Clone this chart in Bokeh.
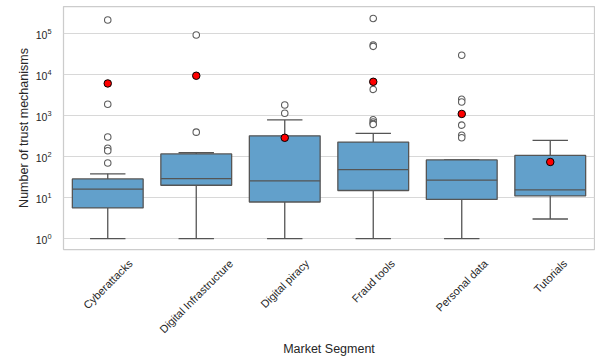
import math

from bokeh.plotting import figure
from bokeh.models import (ColumnDataSource, Range1d, FixedTicker,
                          CustomJSTickFormatter)
from bokeh.transform import dodge
from bokeh.embed import file_html
from bokeh.resources import INLINE

# Box-plot summary of trust mechanisms per market segment
segments = ["Cyberattacks", "Digital Infrastructure", "Digital piracy",
            "Fraud tools", "Personal data", "Tutorials"]
whisker_low = [1, 1, 1, 1, 1, 3.0]
q1 = [5.6, 20, 7.8, 14.9, 9.0, 11]
median = [16, 29, 25.5, 48, 26.6, 15.5]
q3 = [28.6, 116, 322, 226, 83, 107]
whisker_high = [38, 124, 787, 367, 83, 248]
means = [6100, 9400, 288, 6700, 1100, 74]
outliers = {
    "Cyberattacks": [215000, 1900, 300, 160, 139, 70],
    "Digital Infrastructure": [93000, 395],
    "Digital piracy": [1820, 1140],
    "Fraud tools": [235000, 53000, 49000, 4370, 790, 700, 640, 610],
    "Personal data": [29700, 2500, 2150, 585, 333, 288],
    "Tutorials": [],
}
y_ticks = [1, 10, 100, 1000, 10000, 100000]

TEXT = "#262626"
FONT = "Liberation Sans"
BOX_FILL = "#62a0cb"
EDGE = "#555555"

# each segment occupies one unit slot on the x axis, centred at i + 0.5
slot = {s: i + 0.5 for i, s in enumerate(segments)}
boxes = ColumnDataSource(dict(x=[slot[s] for s in segments], lo=whisker_low,
                              q1=q1, med=median, q3=q3, hi=whisker_high,
                              mean=means))
out_x = [slot[s] for s in segments for _ in outliers[s]]
out_y = [v for s in segments for v in outliers[s]]
points = ColumnDataSource(dict(x=out_x, value=out_y))

y_start, y_end = 10 ** -0.267, 10 ** 5.663
W, H = 595, 358
LEFT, RIGHT, TOP, BOTTOM = 63, 1, 6, 108

p = figure(x_range=Range1d(0, len(segments)), y_axis_type="log",
           y_range=Range1d(y_start, y_end),
           width=W, height=H, output_backend="svg", toolbar_location=None,
           min_border_left=LEFT, min_border_right=RIGHT, min_border_top=TOP,
           min_border_bottom=BOTTOM)
p.background_fill_color = "white"
p.border_fill_color = "white"
p.outline_line_color = "#cccccc"
p.outline_line_width = 1.25

# grid: horizontal decade lines only
p.xgrid.grid_line_color = None
p.ygrid.ticker = FixedTicker(ticks=y_ticks, minor_ticks=[])
p.ygrid.grid_line_color = "#d8d8d8"
p.ygrid.grid_line_width = 1.2

# whiskers and caps
line_kw = dict(line_color=EDGE, line_width=1.3)
p.segment(x0="x", y0="lo", x1="x", y1="q1", source=boxes, **line_kw)
p.segment(x0="x", y0="q3", x1="x", y1="hi", source=boxes, **line_kw)
p.segment(x0=dodge("x", -0.2), y0="lo", x1=dodge("x", 0.2), y1="lo",
          source=boxes, **line_kw)
p.segment(x0=dodge("x", -0.2), y0="hi", x1=dodge("x", 0.2), y1="hi",
          source=boxes, **line_kw)

# boxes and medians
p.vbar(x="x", width=0.8, bottom="q1", top="q3", source=boxes,
       fill_color=BOX_FILL, line_color=EDGE, line_width=1.3)
p.segment(x0=dodge("x", -0.4), y0="med", x1=dodge("x", 0.4), y1="med",
          source=boxes, **line_kw)

# outliers and means
p.scatter(x="x", y="value", source=points, size=6.5, fill_color="white",
          line_color="#5e5e5e", line_width=1.1)
p.scatter(x="x", y="mean", source=boxes, size=7.5, fill_color="#ff0000",
          line_color="black", line_width=1)

# y axis
p.yaxis.ticker = FixedTicker(ticks=y_ticks, minor_ticks=[])
p.yaxis.axis_label = "Number of trust mechanisms"
p.yaxis.major_label_standoff = 6
p.yaxis.axis_label_standoff = 2
p.yaxis.major_label_text_font_size = "10.5px"

# x axis: slanted segment names, each centred below its box.  Bokeh anchors a
# slanted label at its right end, so the tick is moved right by half the
# label's horizontal run (approximate Arial advance widths, em/1000).
ADV = {" ": 278, "a": 556, "b": 556, "c": 500, "d": 556, "e": 556, "f": 278,
       "g": 556, "i": 222, "k": 500, "l": 222, "n": 556, "o": 556, "p": 556,
       "r": 333, "s": 500, "t": 278, "u": 556, "y": 500, "C": 722, "D": 722,
       "F": 611, "I": 278, "P": 667, "T": 611}
LABEL_PX = 11
px_per_unit = (W - LEFT - RIGHT) / len(segments)


def text_width(s):
    return sum(ADV.get(ch, 556) for ch in s) * LABEL_PX / 1000.0


label_ticks = [slot[s] + 0.3536 * text_width(s) / px_per_unit for s in segments]
xaxis = p.xaxis[0]
xaxis.ticker = FixedTicker(ticks=label_ticks, minor_ticks=[])
xaxis.formatter = CustomJSTickFormatter(args=dict(names=segments),
                                        code="return names[index];")
xaxis.major_label_orientation = math.pi / 4
xaxis.major_label_standoff = 6
xaxis.major_label_text_font_size = f"{LABEL_PX}px"
xaxis.axis_label = "Market Segment"
xaxis.axis_label_standoff = -1

for ax in (xaxis, p.yaxis[0]):
    ax.axis_line_color = None
    ax.major_tick_line_color = None
    ax.minor_tick_line_color = None
    ax.major_label_text_font = FONT
    ax.major_label_text_color = TEXT
    ax.axis_label_text_font = FONT
    ax.axis_label_text_font_style = "normal"
    ax.axis_label_text_font_size = "12.5px"
    ax.axis_label_text_color = TEXT

open("out.html", "w").write(file_html(p, INLINE))
